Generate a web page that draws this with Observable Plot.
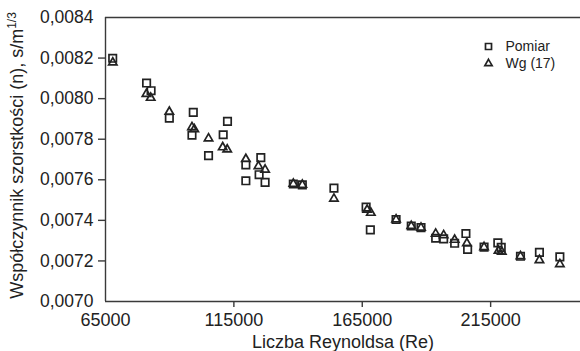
<!DOCTYPE html>
<html><head><meta charset="utf-8">
<script src="https://cdn.jsdelivr.net/npm/d3@7"></script>
<script src="https://cdn.jsdelivr.net/npm/@observablehq/plot@0.6"></script>
<style>
html,body{margin:0;padding:0;background:#fff;}
#chart{width:580px;height:351px;overflow:hidden;}
svg{font-family:"Liberation Sans",Arial,sans-serif;}
</style>
</head><body><div id="chart"></div>
<script>
// Pomiar (measured) – Reynolds number and roughness coefficient
const pomiarRe = [67800, 81000, 82750, 89860, 99190, 98680, 105130, 110840, 112510, 119660, 119660,
  125490, 124830, 127160, 138150, 141650, 153970, 166500, 168150, 178170, 184080, 187880, 193590,
  196700, 200980, 205370, 206030, 212440, 217800, 219120, 226620, 234000, 241960];
const pomiarN = [0.008199, 0.008077, 0.008039, 0.007904, 0.007932, 0.007820, 0.007719, 0.007822, 0.007888,
  0.007673, 0.007595, 0.007709, 0.007625, 0.007587, 0.007579, 0.007575, 0.007559, 0.007465, 0.007353,
  0.007404, 0.007372, 0.007364, 0.007312, 0.007309, 0.007287, 0.007335, 0.007257, 0.007268, 0.007289,
  0.007267, 0.007223, 0.007242, 0.007220];
// Wg (17) – computed
const wgRe = [67840, 80930, 82600, 89860, 98680, 99580, 105130, 110650, 112400, 119660, 124560, 127160,
  138150, 141650, 153970, 166900, 168340, 178170, 184080, 187880, 193590, 196700, 200980, 205750,
  212440, 218070, 219350, 226620, 234000, 241960];
const wgN = [0.008178, 0.008023, 0.008004, 0.007935, 0.007859, 0.007849, 0.007804, 0.007760, 0.007749,
  0.007702, 0.007667, 0.007650, 0.007580, 0.007575, 0.007507, 0.007452, 0.007437, 0.007404, 0.007372,
  0.007364, 0.007334, 0.007327, 0.007304, 0.007287, 0.007268, 0.007250, 0.007245, 0.007223, 0.007204,
  0.007184];
const seriesNames = ["Pomiar", "Wg (17)"];
const xTicks = [65000, 115000, 165000, 215000];
const yTicks = [0.0070, 0.0072, 0.0074, 0.0076, 0.0078, 0.0080, 0.0082, 0.0084];
const xDomain = [65000, 250000];
const yDomain = [0.0070, 0.0084];
const xTitle = "Liczba Reynoldsa (Re)";
const yTitle = "Współczynnik szorstkości (n), s/m";
const yTitleSup = "1/3";

const pomiar = pomiarRe.map((re, i) => ({re, n: pomiarN[i]}));
const wg = wgRe.map((re, i) => ({re, n: wgN[i]}));
const fmtY = d3.formatLocale({decimal: ",", thousands: " ", grouping: [3], currency: ["", ""]}).format(".4f");
const ink = "#222";
const axisInk = "#3a3a3a";

const plot = Plot.plot({
  width: 580,
  height: 351,
  marginLeft: 105,
  marginRight: 0,
  marginTop: 17,
  marginBottom: 50,
  style: {fontFamily: "'Liberation Sans', Arial, sans-serif", background: "#fff", color: ink},
  x: {domain: xDomain},
  y: {domain: yDomain},
  marks: [
    // frame: left, bottom, top
    Plot.ruleX([xDomain[0]], {stroke: axisInk, strokeWidth: 1.4}),
    Plot.ruleY([yDomain[0], yDomain[1]], {stroke: axisInk, strokeWidth: 1.4}),
    Plot.axisY(yTicks.filter(t => t > yDomain[0] && t < yDomain[1]), {
      tickSize: 7, stroke: axisInk, strokeWidth: 1.4, text: null, label: null
    }),
    Plot.axisY(yTicks, {
      tickSize: 0, tickPadding: 12, tickFormat: fmtY, fontSize: 17.5, fill: ink, label: null
    }),
    Plot.axisX(xTicks.filter(t => t > xDomain[0]), {
      tickSize: 6, stroke: axisInk, strokeWidth: 1.4, text: null, label: null
    }),
    Plot.axisX(xTicks, {
      tickSize: 0, tickPadding: 12, tickFormat: d => String(d), fontSize: 18, fill: ink, label: null
    }),
    Plot.text([xTitle], {frameAnchor: "bottom", lineAnchor: "middle", dy: 40.5, fontSize: 18, fill: ink, text: d => d}),
    Plot.text([yTitle], {frameAnchor: "left", textAnchor: "middle", lineAnchor: "middle", rotate: -90, dx: -88, dy: -4, fontSize: 18, fill: ink, text: d => d}),
    // data
    Plot.dot(pomiar, {x: "re", y: "n", symbol: "square", r: 4.2, stroke: ink, strokeWidth: 1.7, fill: "none"}),
    Plot.dot(wg, {x: "re", y: "n", symbol: "triangle", r: 3.1, stroke: ink, strokeWidth: 1.7, fill: "none"}),
    // legend
    Plot.dot([seriesNames[0]], {frameAnchor: "top-right", dx: -92, dy: 29, symbol: "square", r: 3.4, stroke: ink, strokeWidth: 1.7, fill: "none"}),
    Plot.dot([seriesNames[1]], {frameAnchor: "top-right", dx: -92, dy: 46, symbol: "triangle", r: 2.7, stroke: ink, strokeWidth: 1.7, fill: "none"}),
    Plot.text([seriesNames[0]], {frameAnchor: "top-right", dx: -75, dy: 29, textAnchor: "start", lineAnchor: "middle", fontSize: 14, fill: ink, text: d => d}),
    Plot.text([seriesNames[1]], {frameAnchor: "top-right", dx: -75, dy: 46, textAnchor: "start", lineAnchor: "middle", fontSize: 14, fill: ink, text: d => d})
  ]
});
document.getElementById("chart").appendChild(plot);
// superscript for the unit m^(1/3)
plot.querySelectorAll("text").forEach(t => {
  if (t.textContent === yTitle) {
    const ts = document.createElementNS("http://www.w3.org/2000/svg", "tspan");
    ts.setAttribute("font-size", "12");
    ts.setAttribute("dy", "-7");
    ts.textContent = yTitleSup;
    t.appendChild(ts);
  }
});
</script>
</body></html>
